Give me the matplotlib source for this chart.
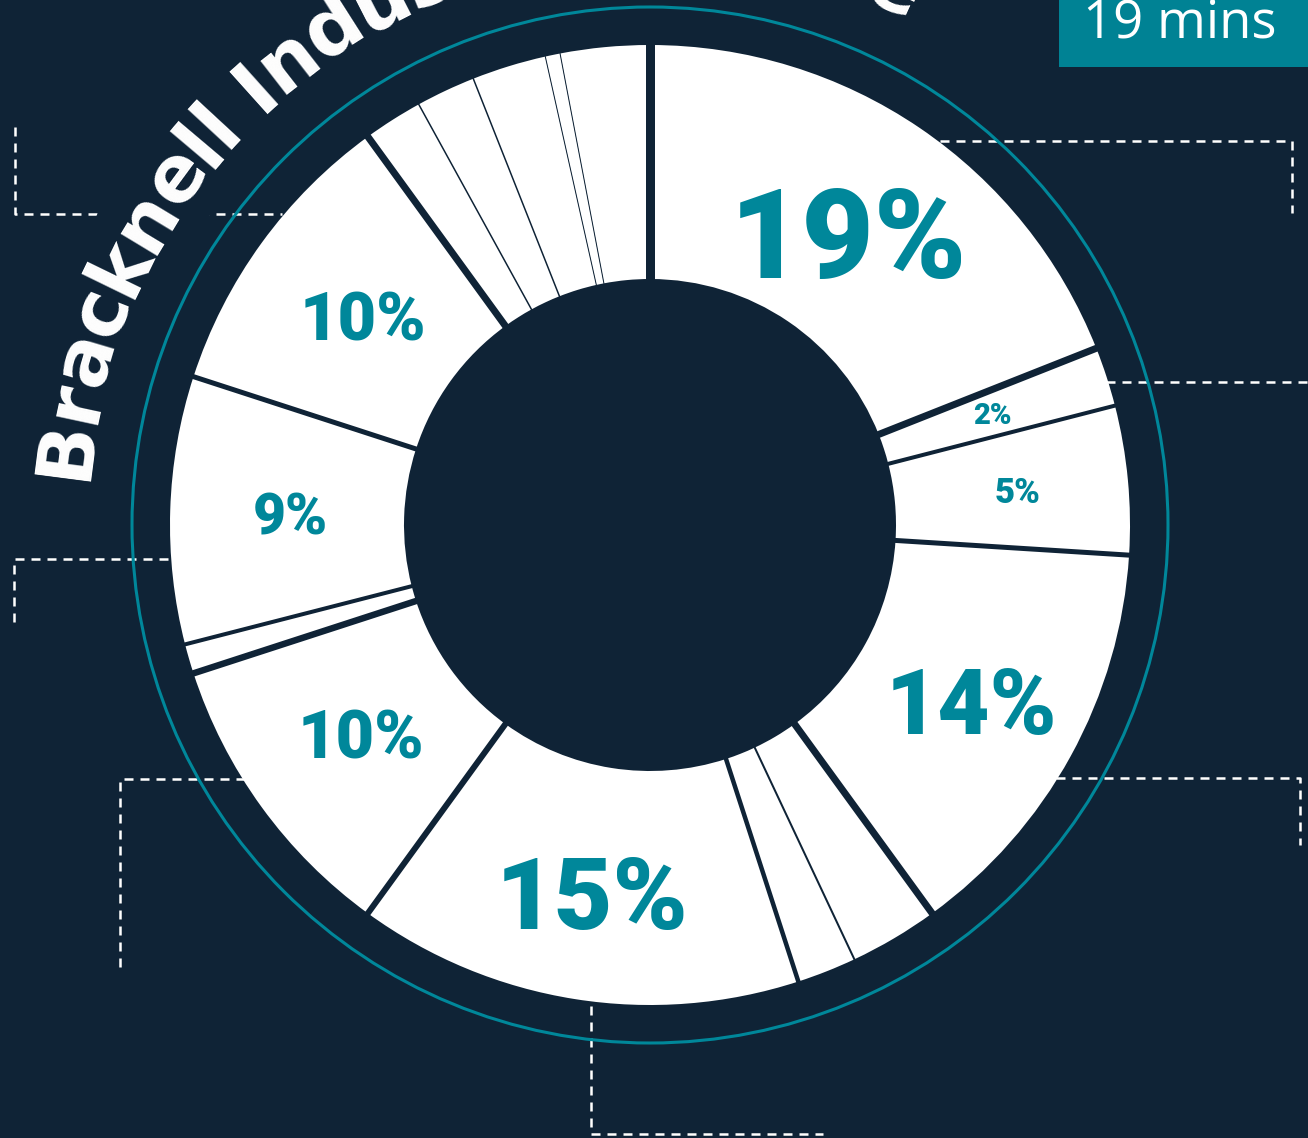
import numpy as np
import matplotlib
matplotlib.use('Agg')
import matplotlib.pyplot as plt
from matplotlib.patches import Wedge, Rectangle, Circle
from matplotlib.font_manager import FontProperties, findfont
from matplotlib.ft2font import FT2Font

# canvas in pixels
W, H = 1308, 1138
BG = '#0f2336'
TEAL = '#00879a'

# slice shares (%) clockwise from 12 o'clock
shares = [19, 2, 5, 14, 3, 2, 15, 10, 1, 9, 10, 2, 2, 2.5, 0.5, 3]
labels = ['19%', '2%', '5%', '14%', '', '', '15%', '10%', '', '9%', '10%', '', '', '', '', '']
label_pt = [90, 21, 25, 65, 0, 0, 73, 48, 0, 41, 48, 0, 0, 0, 0, 0]
label_r = [353, 360, 369, 367, 0, 0, 372, 357, 0, 360, 355, 0, 0, 0, 0, 0]
# dark gap drawn at the start of each slice (px)
gap_px = [9, 7, 4, 5, 7, 2, 4.5, 6, 6.5, 4, 5, 7, 1.5, 1.5, 1, 1]

title = 'Bracknell Industrial Estate'
badge = '19 mins'

fig = plt.figure(figsize=(W / 100, H / 100), dpi=100, facecolor=BG)
ax = fig.add_axes([0, 0, 1, 1])
ax.set_facecolor(BG)

cx, cy = 650, H - 525
R_OUT, R_IN = 480, 246

wedges, _ = ax.pie(shares, radius=R_OUT, center=(cx, cy), startangle=90,
                   counterclock=False, colors=['white'] * len(shares),
                   wedgeprops=dict(width=R_OUT - R_IN, linewidth=0))
ax.set_xlim(0, W)
ax.set_ylim(0, H)
ax.set_aspect('equal')
ax.axis('off')

# separators between slices
for w, g in zip(wedges, gap_px):
    a = np.deg2rad(w.theta2)
    rr = np.array([R_IN - 4, R_OUT + 4])
    ax.plot(cx + rr * np.cos(a), cy + rr * np.sin(a), color=BG,
            lw=g * 0.72, solid_capstyle='butt', zorder=3)

# percentage labels
for w, lab, fs, lr in zip(wedges, labels, label_pt, label_r):
    if not lab:
        continue
    mid = np.deg2rad((w.theta1 + w.theta2) / 2)
    x = cx + lr * np.cos(mid)
    y = cy + lr * np.sin(mid)
    ax.text(x, y - fs * 0.5, lab, color=TEAL, fontsize=fs, fontweight='black',
            family='Roboto', ha='center', va='baseline', zorder=5)

# outer teal ring
ax.add_patch(Circle((cx, cy), 518, fill=False, ec=TEAL, lw=2.2, zorder=2))

# dashed connectors (image px, y down)
dash = dict(color='white', lw=1.8, ls=(0, (3.6, 2.8)), zorder=0.5)
connectors = [
    ([940, 1292, 1292], [141, 141, 213]),
    ([15, 15, 282], [127, 214, 214]),
    ([14, 14, 200], [622, 559, 559]),
    ([120, 120, 260], [967, 779, 779]),
    ([591, 591, 823], [990, 1134, 1134]),
    ([1090, 1308], [382, 382]),
    ([1040, 1300, 1300], [778, 778, 845]),
]
for xs, ys in connectors:
    ax.plot(xs, [H - v for v in ys], **dash)

# dark band behind the curved title
ax.add_patch(Wedge((cx, cy), 634, -300, -178, width=96, color=BG, lw=0, zorder=2))

# curved title, first letter centre at 277 deg, last at 24 deg (clockwise from top)
fp = FontProperties(family='DejaVu Sans', weight='bold', size=56)
ft = FT2Font(findfont(fp))
ft.set_size(56, 100)
adv = np.array([ft.load_char(ord(c)).linearHoriAdvance / 65536 for c in title])
centers = np.cumsum(adv) - adv / 2
centers = centers - centers[0]
th_start, th_end = 277.4, 384.5
angles = th_start + centers / centers[-1] * (th_end - th_start)
r_base = 566
for c, th in zip(title, angles):
    t = np.deg2rad(th)
    ax.text(cx + r_base * np.sin(t), cy + r_base * np.cos(t), c, color='white',
            fontproperties=fp, rotation=-th, rotation_mode='anchor',
            ha='center', va='baseline', zorder=4)

# badge top right
ax.add_patch(Rectangle((1059, H - 67), W - 1059, 80, color='#008294', lw=0, zorder=2))
ax.text(1083, H - 37, badge, color='white', fontsize=38, family='Open Sans',
        ha='left', va='baseline', zorder=4)

fig.savefig('out.png', dpi=100, facecolor=BG)
